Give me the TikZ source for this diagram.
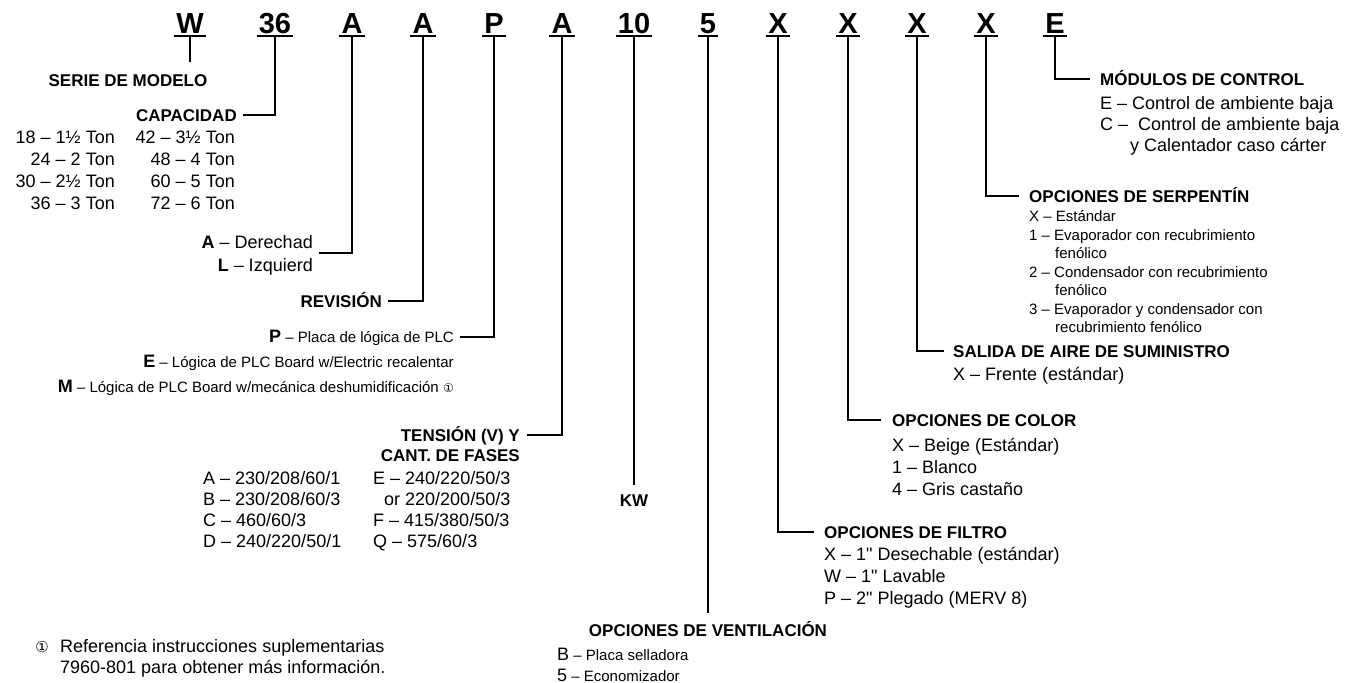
\documentclass[tikz,border=0pt]{standalone}
\usepackage{fontspec}
\setmainfont{Liberation Sans}
\newfontfamily\symfont{DejaVu Sans}
\newfontfamily\qf{Liberation Sans}[Ligatures=TeXOff]
\newcommand{\dq}{{\qf"}}
\begin{document}
\begin{tikzpicture}[x=1pt,y=-1pt,
  code/.style={font=\fontsize{29}{32}\selectfont\bfseries, inner sep=0pt, anchor=base},
  hd/.style={font=\fontsize{17}{20}\selectfont\bfseries, inner sep=0pt},
  tx/.style={font=\fontsize{18}{21}\selectfont, inner sep=0pt},
  sm/.style={font=\fontsize{15}{18}\selectfont, inner sep=0pt},
  conn/.style={line width=2.8pt},
  uline/.style={line width=2pt}]
\useasboundingbox (0,0) rectangle (1353,683);
% code letters
\foreach \n/\x/\t in {c1/190/W, c2/275/36, c3/352/A, c4/423/A, c5/494/P, c6/562/A, c7/634/10, c8/708/5, c9/778/X, c10/848/X, c11/917/X, c12/986/X, c13/1055/E}{
  \node[code] (\n) at (\x,33) {\t};
  \draw[uline] ([xshift=-2pt,yshift=-3pt]\n.base west) -- ([xshift=2pt,yshift=-3pt]\n.base east);
}
% serie
\node[hd, anchor=base] (serie) at (128,86) {SERIE DE MODELO};
\coordinate (wend) at (190,62);
\draw[conn] ([yshift=-3pt]c1.base) -- (wend);
% capacidad
\node[hd, anchor=base east] (cap) at (237,121) {CAPACIDAD};
\draw[conn] ([yshift=-3pt]c2.base) |- ([xshift=6pt,yshift=6pt]cap.base east);
\node[tx, anchor=base east] (ca1) at (115,143) {18 – 1½ Ton};
\node[tx, anchor=base east] (ca2) at (115,165) {24 – 2 Ton};
\node[tx, anchor=base east] (ca3) at (115,187) {30 – 2½ Ton};
\node[tx, anchor=base east] (ca4) at (115,209) {36 – 3 Ton};
\node[tx, anchor=base east] (cb1) at (235,143) {42 – 3½ Ton};
\node[tx, anchor=base east] (cb2) at (235,165) {48 – 4 Ton};
\node[tx, anchor=base east] (cb3) at (235,187) {60 – 5 Ton};
\node[tx, anchor=base east] (cb4) at (235,209) {72 – 6 Ton};
% derecha / izquierda
\node[tx, anchor=base east] (der) at (313,248) {\textbf{A} – Derechad};
\node[tx, anchor=base east] (izq) at (313,271) {\textbf{L} – Izquierd};
\draw[conn] ([yshift=-3pt]c3.base) |- ([xshift=6pt,yshift=-5pt]der.base east);
% revision
\node[hd, anchor=base east] (rev) at (382,307) {REVISIÓN};
\draw[conn] ([yshift=-3pt]c4.base) |- ([xshift=6pt,yshift=6pt]rev.base east);
% PLC
\node[sm, anchor=base east] (pl1) at (454,342) {{\fontsize{18}{18}\selectfont\bfseries P} – Placa de lógica de PLC};
\node[sm, anchor=base east] (pl2) at (454,367) {{\fontsize{18}{18}\selectfont\bfseries E} – Lógica de PLC Board w/Electric recalentar};
\node[sm, anchor=base east] (pl3) at (454,392) {{\fontsize{18}{18}\selectfont\bfseries M} – Lógica de PLC Board w/mecánica deshumidificación {\symfont\fontsize{12}{12}\selectfont ①}};
\draw[conn] ([yshift=-3pt]c5.base) |- ([xshift=6pt,yshift=5pt]pl1.base east);
% tension
\node[hd, anchor=base east] (ten1) at (520,441) {TENSIÓN (V) Y};
\node[hd, anchor=base east] (ten2) at (520,461) {CANT. DE FASES};
\draw[conn] ([yshift=-3pt]c6.base) |- ([xshift=7pt,yshift=6pt]ten1.base east);
\node[tx, anchor=base west] (va1) at (203,484) {A – 230/208/60/1};
\node[tx, anchor=base west] (va2) at (203,505) {B – 230/208/60/3};
\node[tx, anchor=base west] (va3) at (203,526) {C – 460/60/3};
\node[tx, anchor=base west] (va4) at (203,547) {D – 240/220/50/1};
\node[tx, anchor=base west] (vb1) at (373,484) {E – 240/220/50/3};
\path (vb1.base east) ++(0,21) coordinate (orpos);
\node[tx, anchor=base east] (vb2) at (orpos) {or 220/200/50/3};
\node[tx, anchor=base west] (vb3) at (373,526) {F – 415/380/50/3};
\node[tx, anchor=base west] (vb4) at (373,547) {Q – 575/60/3};
% KW
\node[hd, anchor=base] (kw) at (634,506) {KW};
\draw[conn] ([yshift=-3pt]c7.base) -- ([yshift=9pt]kw.north);
% ventilacion
\node[hd, anchor=base] (vent) at (708,636) {OPCIONES DE VENTILACIÓN};
\draw[conn] ([yshift=-3pt]c8.base) -- ([yshift=8pt]vent.north);
\node[sm, anchor=base west] (ve1) at (557,660) {{\fontsize{18}{18}\selectfont B} – Placa selladora};
\node[sm, anchor=base west] (ve2) at (557,681) {{\fontsize{18}{18}\selectfont 5} – Economizador};
% filtro
\node[hd, anchor=base west] (fil) at (824,538) {OPCIONES DE FILTRO};
\draw[conn] ([yshift=-3pt]c9.base) |- ([xshift=-10pt,yshift=6pt]fil.base west);
\node[tx, anchor=base west] (fi1) at (824,560) {X – 1\dq{} Desechable (estándar)};
\node[tx, anchor=base west] (fi2) at (824,582) {W – 1\dq{} Lavable};
\node[tx, anchor=base west] (fi3) at (824,604) {P – 2\dq{} Plegado (MERV 8)};
% color
\node[hd, anchor=base west] (col) at (892,426) {OPCIONES DE COLOR};
\draw[conn] ([yshift=-3pt]c10.base) |- ([xshift=-11pt,yshift=6pt]col.base west);
\node[tx, anchor=base west] (co1) at (892,451) {X – Beige (Estándar)};
\node[tx, anchor=base west] (co2) at (892,473) {1 – Blanco};
\node[tx, anchor=base west] (co3) at (892,495) {4 – Gris castaño};
% salida
\node[hd, anchor=base west] (sal) at (953,357) {SALIDA DE AIRE DE SUMINISTRO};
\draw[conn] ([yshift=-3pt]c11.base) |- ([xshift=-9pt,yshift=6pt]sal.base west);
\node[tx, anchor=base west] (sa1) at (953,380) {X – Frente (estándar)};
% serpentin
\node[hd, anchor=base west] (ser) at (1029,202) {OPCIONES DE SERPENTÍN};
\draw[conn] ([yshift=-3pt]c12.base) |- ([xshift=-10pt,yshift=6pt]ser.base west);
\node[sm, anchor=base west] (se1) at (1029,221) {X – Estándar};
\node[sm, anchor=base west] (se2) at (1029,240) {1 – Evaporador con recubrimiento};
\node[sm, anchor=base west] (se3) at (1055,258) {fenólico};
\node[sm, anchor=base west] (se4) at (1029,277) {2 – Condensador con recubrimiento};
\node[sm, anchor=base west] (se5) at (1055,295) {fenólico};
\node[sm, anchor=base west] (se6) at (1029,314) {3 – Evaporador y condensador con};
\node[sm, anchor=base west] (se7) at (1055,332) {recubrimiento fenólico};
% modulos
\node[hd, anchor=base west] (mod) at (1100,85) {MÓDULOS DE CONTROL};
\draw[conn] ([yshift=-3pt]c13.base) |- ([xshift=-10pt,yshift=6pt]mod.base west);
\node[tx, anchor=base west] (mo1) at (1100,109) {E – Control de ambiente baja};
\node[tx, anchor=base west] (mo2) at (1100,130) {C – \ Control de ambiente baja};
\node[tx, anchor=base west] (mo3) at (1130,151) {y Calentador caso cárter};
% footnote
\node[inner sep=0pt, anchor=base, font=\symfont\fontsize{15}{15}\selectfont] (fnm) at (42,652) {①};
\node[tx, anchor=base west] (fn1) at (60,652) {Referencia instrucciones suplementarias};
\node[tx, anchor=base west] (fn2) at (60,673) {7960-801 para obtener más información.};
\end{tikzpicture}
\end{document}
